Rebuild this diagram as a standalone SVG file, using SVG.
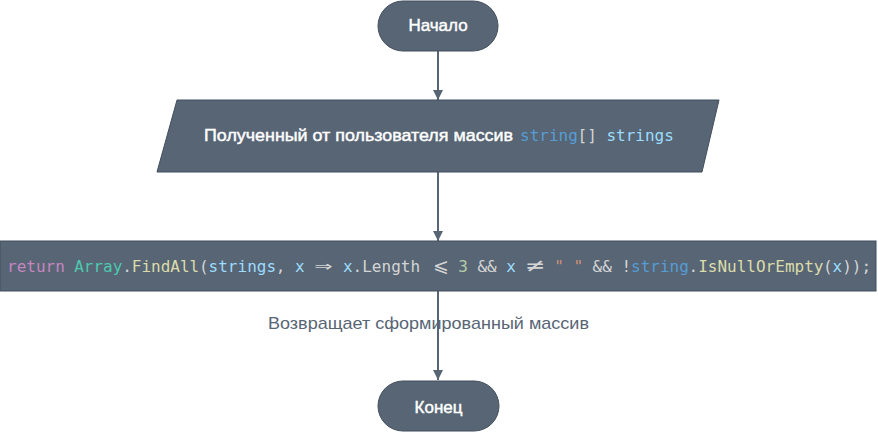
<svg xmlns="http://www.w3.org/2000/svg" width="878" height="432" viewBox="0 0 878 432">
<defs>
<style>
.node{fill:#576574;stroke:#434f5c;stroke-width:1}
.lbl{font-family:"Liberation Sans",Arial,sans-serif;font-size:17px;fill:#ffffff;stroke:#ffffff;stroke-width:0.45px}
.mono{font-family:"DejaVu Sans Mono","Liberation Mono",monospace;font-size:16px}
.conn{stroke:#576574;stroke-width:2;fill:none}
.edge{font-family:"Liberation Sans",Arial,sans-serif;font-size:17px;fill:#576574}
.big{font-size:19px}
.kw{fill:#c586c0}.ty{fill:#4ec9b0}.fn{fill:#dcdcaa}.var{fill:#9cdcfe}.pn{fill:#d4d4d4}.num{fill:#b5cea8}.str{fill:#ce9178}.bk{fill:#569cd6}
</style>
<marker id="ah" viewBox="0 0 10 10" refX="10" refY="5" markerWidth="10" markerHeight="10" markerUnits="userSpaceOnUse" orient="auto">
<path d="M0,0 L10,5 L0,10 Z" fill="#576574"/>
</marker>
</defs>
<g id="connectors">
<line class="conn" x1="438" y1="51" x2="438" y2="100" marker-end="url(#ah)"/>
<line class="conn" x1="438" y1="172" x2="438" y2="241" marker-end="url(#ah)"/>
<line class="conn" x1="438" y1="291" x2="438" y2="380" marker-end="url(#ah)"/>
<text class="edge" x="268" y="329" textLength="321" lengthAdjust="spacingAndGlyphs">Возвращает сформированный массив</text>
</g>
<g id="start">
<rect class="node" x="378" y="1" width="120" height="50" rx="25"/>
<text class="lbl" x="438" y="31" text-anchor="middle">Начало</text>
</g>
<g id="input">
<polygon class="node" points="177,100 719,100 702,172 157,172"/>
<text class="lbl" x="204" y="141" textLength="309" lengthAdjust="spacingAndGlyphs">Полученный от пользователя массив</text>
<text class="mono" y="141"><tspan class="bk" x="520">string</tspan><tspan class="pn" x="577.6">[]</tspan><tspan class="var" x="606.4">strings</tspan></text>
</g>
<g id="process">
<rect class="node" x="0" y="241" width="876" height="50" rx="0"/>
<text class="mono" y="272">
<tspan class="kw" x="7">return</tspan>
<tspan class="ty" x="74.2">Array</tspan>
<tspan class="pn" x="122.2">.</tspan>
<tspan class="fn" x="131.8">FindAll</tspan>
<tspan class="pn" x="199">(</tspan>
<tspan class="var" x="208.6">strings</tspan>
<tspan class="pn" x="275.8">,</tspan>
<tspan class="var" x="295">x</tspan>
<tspan class="pn big" x="314.5" textLength="18" lengthAdjust="spacingAndGlyphs">⇒</tspan>
<tspan class="var" x="343">x</tspan>
<tspan class="pn" x="352.6">.Length</tspan>
<tspan class="pn big" x="432.5">⩽</tspan>
<tspan class="num" x="458.2">3</tspan>
<tspan class="pn" x="477.4">&amp;&amp;</tspan>
<tspan class="var" x="506.2">x</tspan>
<tspan class="pn big" x="526" textLength="18" lengthAdjust="spacingAndGlyphs">≠</tspan>
<tspan class="str" x="554.2">"</tspan>
<tspan class="str" x="573.4">"</tspan>
<tspan class="pn" x="592.6">&amp;&amp;</tspan>
<tspan class="pn" x="621.4">!</tspan>
<tspan class="bk" x="631">string</tspan>
<tspan class="pn" x="688.6">.</tspan>
<tspan class="fn" x="698.2">IsNullOrEmpty</tspan>
<tspan class="pn" x="823">(</tspan>
<tspan class="var" x="832.6">x</tspan>
<tspan class="pn" x="842.2">));</tspan>
</text>
</g>
<g id="end">
<rect class="node" x="378" y="381" width="121" height="50" rx="25"/>
<text class="lbl" x="438.5" y="413" text-anchor="middle">Конец</text>
</g>
</svg>
